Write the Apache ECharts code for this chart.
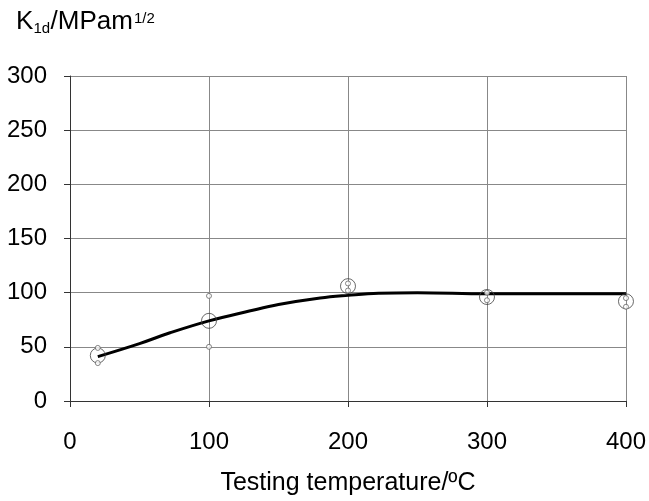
<!DOCTYPE html>
<html><head><meta charset="utf-8">
<script src="https://cdn.jsdelivr.net/npm/echarts@6/dist/echarts.min.js"></script>
<style>html,body{margin:0;padding:0;background:#fff}#c{width:649px;height:501px}</style>
</head><body><div id="c"></div>
<script>
// Mean values (large circles)
var meanTemps = [20, 100, 200, 300, 400];
var meanValues = [42, 74, 106, 96, 92];
// Individual values (small circles)
var indivTemps = [20, 20, 100, 100, 200, 200, 300, 300, 400, 400];
var indivValues = [49, 35, 97, 50, 108.5, 102, 100, 93, 95, 87];
// Fitted curve
var curveTemps = [20, 50, 72, 100, 129, 150, 180, 200, 222, 250, 300, 350, 400];
var curveValues = [41, 53, 63, 74, 83, 89, 95, 97.5, 99.5, 100, 99, 99, 99];
var xTicks = [0, 100, 200, 300, 400];
var yTicks = [0, 50, 100, 150, 200, 250, 300];

function pairs(xs, ys){ return xs.map(function(x,i){ return [x, ys[i]]; }); }

var font = 'Liberation Sans, Arial, sans-serif';
var chart = echarts.init(document.getElementById('c'));
function txt(t, x, y, size){
  return {type: 'text', x: x, y: y, style: {text: t, fontFamily: font, fontSize: size, fill: '#000', textVerticalAlign: 'top', verticalAlign: 'top'}};
}
chart.setOption({
  animation: false,
  backgroundColor: '#fff',
  grid: {left: 70, right: 23, top: 76, bottom: 99},
  xAxis: {
    type: 'value', min: xTicks[0], max: xTicks[xTicks.length-1], interval: 100,
    name: 'Testing temperature/ºC', nameLocation: 'middle', nameGap: 70,
    nameTextStyle: {fontFamily: font, fontSize: 25, color: '#000'},
    axisLine: {show: true, onZero: false, lineStyle: {color: '#333', width: 1}},
    axisTick: {show: true, length: 6, lineStyle: {color: '#333'}},
    axisLabel: {fontFamily: font, fontSize: 24, color: '#000', margin: 29},
    splitLine: {show: true, lineStyle: {color: '#888', width: 1}}
  },
  yAxis: {
    type: 'value', min: yTicks[0], max: yTicks[yTicks.length-1], interval: 50,
    axisLine: {show: true, lineStyle: {color: '#333', width: 1}},
    axisTick: {show: true, length: 6, lineStyle: {color: '#333'}},
    axisLabel: {fontFamily: font, fontSize: 24, color: '#000', margin: 23},
    splitLine: {show: true, lineStyle: {color: '#888', width: 1}}
  },
  graphic: [
    txt('K', 16, 9, 26),
    txt('1d', 33.5, 21, 15),
    txt('/MPam', 50.5, 9, 26),
    txt('1/2', 134, 11, 15)
  ],
  series: [
    {
      type: 'line', data: pairs(curveTemps, curveValues), smooth: 0.4,
      symbol: 'none', lineStyle: {color: '#000', width: 3}, z: 3
    },
    {
      type: 'scatter', data: pairs(meanTemps, meanValues), symbol: 'circle', symbolSize: 15,
      itemStyle: {color: 'rgba(0,0,0,0)', borderColor: '#444', borderWidth: 1}, z: 4
    },
    {
      type: 'scatter', data: pairs(indivTemps, indivValues), symbol: 'circle', symbolSize: 5,
      itemStyle: {color: '#fff', borderColor: '#666', borderWidth: 1}, z: 5
    }
  ]
});
</script></body></html>
